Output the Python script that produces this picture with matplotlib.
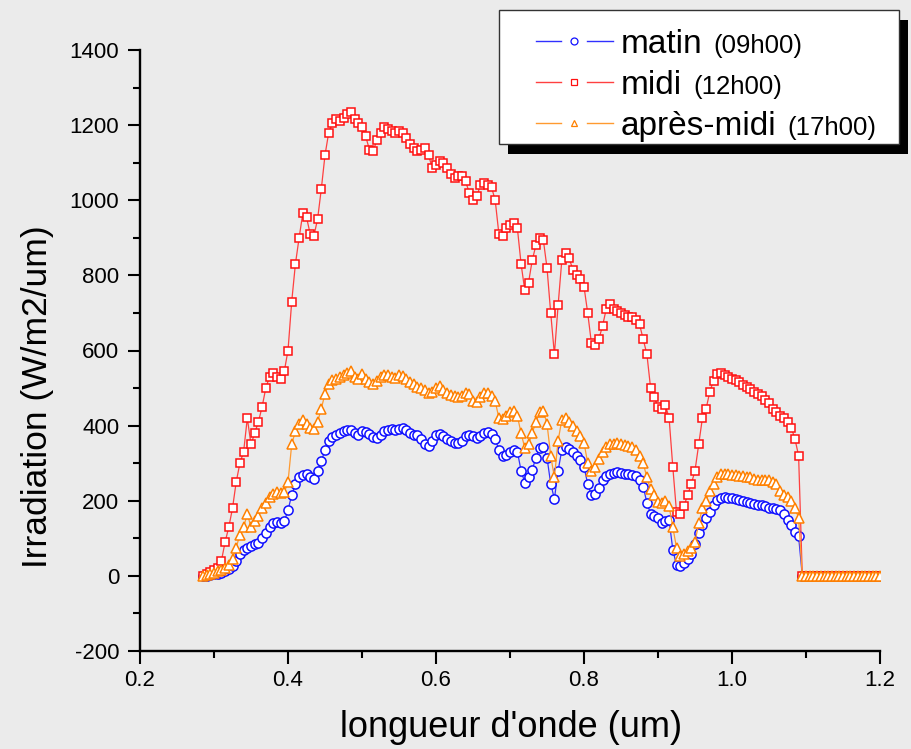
import numpy as np
import matplotlib
matplotlib.use("Agg")
import matplotlib.pyplot as plt
from matplotlib.patches import Rectangle
from matplotlib.lines import Line2D
from matplotlib.ticker import MultipleLocator

plt.rcParams['font.family'] = ['Liberation Sans', 'DejaVu Sans']
plt.rcParams['axes.unicode_minus'] = False

# ---------------- data ----------------
# wavelength sampling grid (um), 0.285 .. 1.200 step 0.005
wavelength_um = np.round(np.arange(0.285, 1.2001, 0.005), 3)

midi_12h00 = [
    0, 5, 10, 15, 20, 40, 90, 130, 180, 250,
    300, 330, 420, 350, 380, 410, 450, 500, 530, 540,
    530, 525, 545, 600, 730, 830, 900, 965, 955, 910,
    905, 950, 1030, 1120, 1180, 1205, 1215, 1210, 1220, 1230,
    1235, 1215, 1205, 1195, 1170, 1135, 1130, 1160, 1180, 1195,
    1190, 1185, 1180, 1185, 1180, 1165, 1150, 1140, 1130, 1135,
    1140, 1120, 1085, 1095, 1105, 1100, 1085, 1070, 1060, 1065,
    1065, 1050, 1020, 1000, 1010, 1040, 1045, 1040, 1035, 1000,
    910, 905, 925, 935, 940, 925, 830, 760, 780, 840,
    880, 900, 895, 820, 700, 590, 720, 840, 860, 845,
    815, 800, 790, 770, 700, 620, 615, 630, 665, 710,
    725, 710, 705, 700, 695, 690, 690, 680, 670, 630,
    590, 500, 475, 450, 445, 455, 420, 290, 170, 165,
    185, 215, 245, 280, 350, 420, 445, 490, 520, 538,
    540, 535, 530, 525, 522, 515, 508, 503, 498, 490,
    485, 478, 468, 460, 445, 435, 425, 420, 410, 395,
    365, 320,
    0, 0, 0, 0, 0, 0, 0, 0, 0, 0, 0, 0, 0, 0, 0, 0, 0, 0, 0, 0, 0, 0,
]

apres_midi_17h00 = [
    0, 2, 5, 8, 12, 15, 22, 30, 45, 75,
    110, 130, 165, 130, 145, 160, 180, 195, 210, 218,
    222, 220, 222, 250, 350, 385, 405, 415, 405, 395,
    390, 410, 445, 485, 510, 522, 525, 530, 535, 540,
    545, 530, 525, 538, 525, 515, 512, 520, 530, 535,
    535, 530, 528, 535, 532, 525, 515, 510, 503, 500,
    495, 488, 490, 500, 505, 495, 488, 482, 478, 476,
    480, 487, 485, 465, 462, 475, 488, 488, 480, 465,
    420, 418, 425, 435, 440, 425, 380, 340, 350, 380,
    410, 435, 440, 405, 320, 262, 360, 415, 420, 410,
    398, 385, 372, 355, 300, 280, 290, 310, 330, 342,
    350, 352, 354, 352, 348, 345, 343, 335, 318, 300,
    262, 230, 215, 198, 195, 200, 185, 130, 75, 52,
    58, 65, 75, 90, 140, 180, 200, 225, 245, 262,
    272, 272, 270, 268, 268, 266, 265, 263, 262, 258,
    256, 255, 254, 255, 250, 245, 225, 215, 210, 200,
    180, 155,
    0, 0, 0, 0, 0, 0, 0, 0, 0, 0, 0, 0, 0, 0, 0, 0, 0, 0, 0, 0, 0, 0,
]

matin_09h00 = [
    0, 0, 2, 4, 6, 8, 12, 18, 25, 40,
    58, 70, 75, 80, 85, 88, 100, 115, 130, 140,
    144, 142, 145, 175, 215, 245, 262, 268, 270, 262,
    258, 280, 305, 335, 358, 370, 376, 381, 385, 388,
    388, 380, 376, 385, 382, 378, 370, 368, 375, 385,
    388, 390, 388, 392, 393, 388, 380, 376, 375, 365,
    352, 345, 360, 375, 378, 372, 365, 358, 355, 354,
    360, 372, 376, 372, 368, 372, 380, 382, 378, 365,
    335, 318, 322, 330, 335, 330, 280, 248, 262, 282,
    315, 340, 343, 315, 245, 205, 280, 335, 342, 338,
    330, 320, 308, 290, 245, 215, 218, 235, 255, 265,
    272, 275, 276, 274, 272, 270, 268, 265, 255, 237,
    195, 165, 160, 155, 142, 145, 148, 70, 28, 25,
    35, 45, 58, 85, 115, 135, 155, 170, 188, 202,
    208, 210, 208, 206, 204, 202, 200, 198, 195, 192,
    190, 188, 185, 182, 180, 178, 175, 165, 150, 135,
    118, 105,
    0, 0, 0, 0, 0, 0, 0, 0, 0, 0, 0, 0, 0, 0, 0, 0, 0, 0, 0, 0, 0, 0,
]

series_names = ['matin', 'midi', 'après-midi']
series_times = ['(09h00)', '(12h00)', '(17h00)']
x_ticks = [0.2, 0.4, 0.6, 0.8, 1.0, 1.2]
x_tick_labels = ['0.2', '0.4', '0.6', '0.8', '1.0', '1.2']
y_ticks = [-200, 0, 200, 400, 600, 800, 1000, 1200, 1400]

# ---------------- figure ----------------
W, H = 911, 749
BG = '#ebebeb'
fig = plt.figure(figsize=(W / 100, H / 100), dpi=100, facecolor=BG)


def fx(px):
    return px / W


def fy(py):
    return 1 - py / H


ax = fig.add_axes([fx(140), fy(651), (880 - 140) / W, (651 - 50) / H])
ax.set_facecolor(BG)

styles = [
    dict(color='#3030ff', marker='o', mec='#1010ff', ms=6.6),
    dict(color='#ff4040', marker='s', mec='#ff1010', ms=6.2),
    dict(color='#ff9a30', marker='^', mec='#ff8000', ms=7.0),
]
data = [matin_09h00, midi_12h00, apres_midi_17h00]

for vals, st in zip(data, styles):
    ax.plot(wavelength_um, vals, color=st['color'], lw=0.9, marker=st['marker'],
            ms=st['ms'], mfc='white', mec=st['mec'], mew=1.1)

ax.set_xlim(0.2, 1.2)
ax.set_ylim(-200, 1400)
ax.set_xticks(x_ticks)
ax.set_xticklabels(x_tick_labels)
ax.set_yticks(y_ticks)
ax.xaxis.set_minor_locator(MultipleLocator(0.1))
ax.yaxis.set_minor_locator(MultipleLocator(100))

for s in ['top', 'right']:
    ax.spines[s].set_visible(False)
for s in ['left', 'bottom']:
    ax.spines[s].set_linewidth(1.7)
    ax.spines[s].set_color('black')

ax.tick_params(which='major', direction='out', length=9, width=1.5,
               labelsize=16, pad=5, colors='black')
ax.tick_params(which='minor', direction='out', length=5, width=1.5)
ax.tick_params(axis='y', which='major', pad=6)

ax.set_xlabel("longueur d'onde (um)", fontsize=26)
ax.xaxis.set_label_coords(0.502, -0.128)
ax.xaxis.label.set_va('center')
ax.set_ylabel('Irradiation (W/m2/um)', fontsize=25.5)
ax.yaxis.set_label_coords((38 - 140) / 740, (651 - 396.5) / 601)
ax.yaxis.label.set_va('center')

# ---------------- legend (Origin-style box with hard shadow) ----------------
bw = (899 - 499) / W
bh = (144 - 10) / H
fig.add_artist(Rectangle((fx(508), fy(154)), bw, bh, transform=fig.transFigure,
                         facecolor='black', edgecolor='black', lw=0, zorder=10))
fig.add_artist(Rectangle((fx(499), fy(144)), bw, bh, transform=fig.transFigure,
                         facecolor='white', edgecolor='#333333', lw=1.0, zorder=11))

row_centers = [41, 82, 123]
baselines = [53, 94, 135]
main_texts = []
for name, st, yc, yb in zip(series_names, styles, row_centers, baselines):
    for xa, xb in [(536, 561), (587, 613)]:
        fig.add_artist(Line2D([fx(xa), fx(xb)], [fy(yc), fy(yc)], transform=fig.transFigure,
                              color=st['color'], lw=1.0, zorder=12))
    fig.add_artist(Line2D([fx(574)], [fy(yc)], transform=fig.transFigure, marker=st['marker'],
                          ms=5.0, mfc='white', mec=st['mec'], mew=0.9,
                          lw=0, zorder=12))
    t = fig.text(fx(621), fy(yb), name, fontsize=24, ha='left', va='baseline', zorder=13)
    main_texts.append(t)

fig.canvas.draw()
renderer = fig.canvas.get_renderer()
for t, tm, yb in zip(main_texts, series_times, baselines):
    ext = t.get_window_extent(renderer)
    fig.text((ext.x1 + 11) / W, fy(yb), tm, fontsize=18.5, ha='left', va='baseline', zorder=13)

fig.savefig('out.png', dpi=100, facecolor=BG)
